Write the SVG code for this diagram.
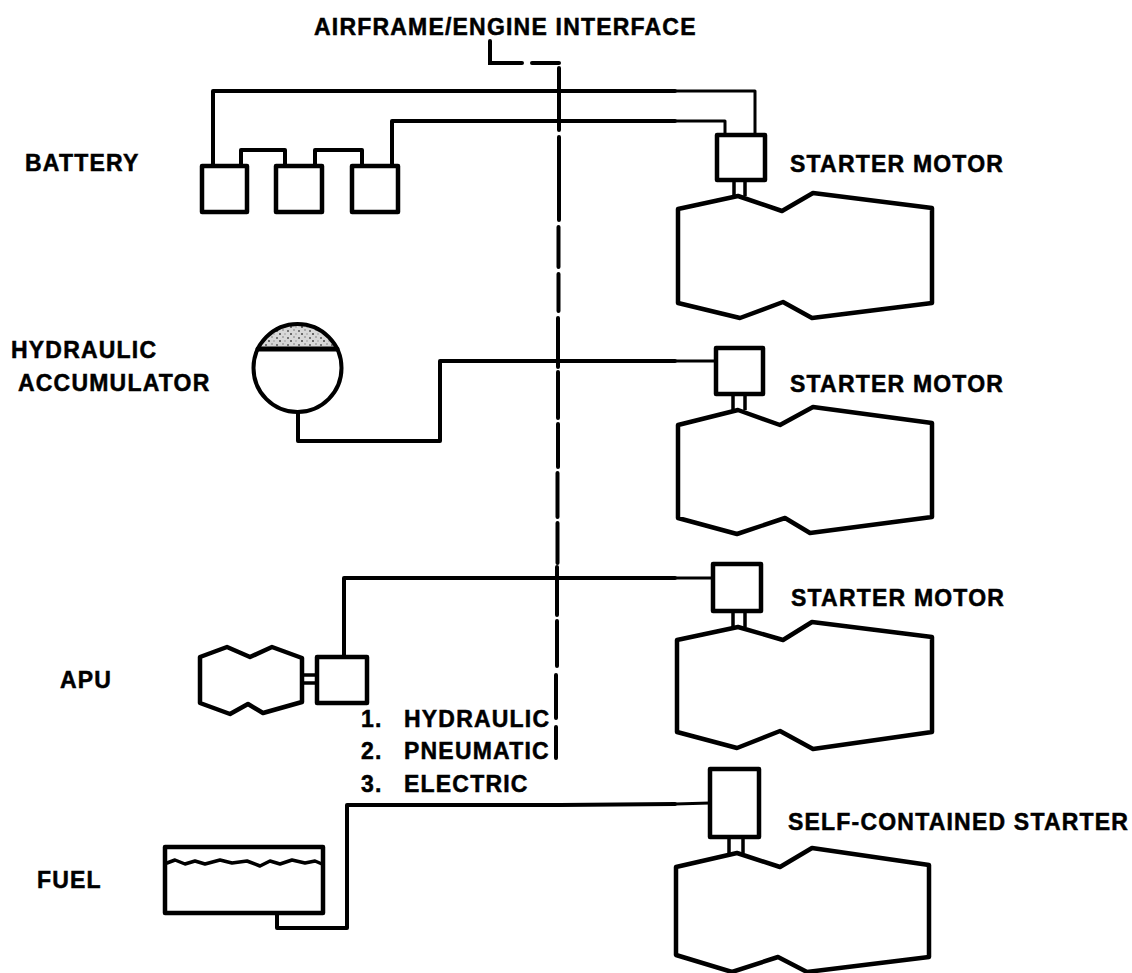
<svg xmlns="http://www.w3.org/2000/svg" width="1132" height="973" viewBox="0 0 1132 973">
<style>
.l{fill:none;stroke:#000;stroke-width:4;stroke-linejoin:round;stroke-linecap:round}
.w{fill:none;stroke:#000;stroke-width:3;stroke-linejoin:round}
.d{fill:none;stroke:#000;stroke-width:4;stroke-linecap:round}
.n{fill:#fff;stroke:#000;stroke-width:4.5;stroke-linejoin:round}
.s{fill:none;stroke:#000;stroke-width:3.5}
.t{font-family:"Liberation Sans",Arial,sans-serif;font-weight:700;font-size:23px;letter-spacing:1.2px;fill:#000;stroke:#000;stroke-width:.5}
</style>
<defs>
<pattern id="stipple" width="11" height="7" patternUnits="userSpaceOnUse">
<rect width="11" height="7" fill="#d8d8d8"/>
<circle cx="2" cy="2" r="1" fill="#555"/><circle cx="8" cy="1" r=".8" fill="#777"/><circle cx="5" cy="5" r="1" fill="#444"/><circle cx="10" cy="5" r=".7" fill="#888"/>
</pattern>
</defs>
<rect width="1132" height="973" fill="#fff"/>
<g id="connectors">
<path class="l" d="M213 166V91H675"/><path class="w" d="M675 91H755V135"/>
<path class="l" d="M392 166V121H675"/><path class="w" d="M675 121H725V135"/>
<path class="l" d="M241 166V150H285V166M315 166V150H362V166"/>
<path class="l" d="M298 412V441H440V361H675"/><path class="w" d="M675 361H716"/>
<path class="l" d="M344 657V578H675"/><path class="w" d="M675 578H713"/>
<path class="l" d="M277 913V928H347V805H560L675 804"/><path class="w" d="M675 804L710 803"/>
<path class="d" id="interface-leader" d="M490 41V63H522M532 63H559"/>
<path class="d" id="interface-line" d="M559 68V130M559 137V220M558.500 227V267M558.500 274V311M558 318V367M558 372V418M558 424V467M557.500 473V517M557.500 523V563M557 567V615M557 621V666M556 675V718M556 727V758"/>
</g>
<g id="battery1"><rect class="n" x="202" y="166" width="45" height="46"/></g>
<g id="battery2"><rect class="n" x="276" y="166" width="46" height="46"/></g>
<g id="battery3"><rect class="n" x="352" y="166" width="46" height="46"/></g>
<g id="accumulator"><circle cx="297.500" cy="368" r="44" fill="#fff"/><path d="M258 349A44 44 0 0 1 337 349Z" fill="url(#stipple)"/><circle class="l" cx="297.500" cy="368" r="44"/><path class="l" d="M258 349H337" style="stroke-width:5"/></g>
<g id="apu"><path class="n" d="M200 657L227 647L250 657L272 647L302 658V702L263 713L248 704L230 714L200 703Z"/><path class="s" d="M302 675H318M302 683H318"/><rect class="n" x="317" y="657" width="50" height="46"/></g>
<g id="tank"><rect class="n" x="165" y="847" width="158" height="66"/><path class="l" d="M167 863L175 860L185 864L195 861L205 864L220 860L232 863L247 861L260 866L270 861L280 864L292 860L305 863L315 861L322 864" style="stroke-width:3.500"/></g>
<g id="engine1"><path class="n" d="M678 209L738 196L782 211L813 193L932 208V303L812 318L783 302L740 318L678 303Z"/><path class="s" d="M734 180V196M745 180V196"/><rect class="n" x="717" y="135" width="48" height="45"/></g>
<g id="engine2"><path class="n" d="M678 425L738 410L780 425L813 407L932 423V517L810 533L785 518L737 534L678 518Z"/><path class="s" d="M733 394V410M745 394V410"/><rect class="n" x="716" y="348" width="47" height="46"/></g>
<g id="engine3"><path class="n" d="M677 640L738 627L783 640L812 622L932 637V732L813 749L780 731L737 748L677 732Z"/><path class="s" d="M733 611V627M745 611V627"/><rect class="n" x="713" y="564" width="48" height="47"/></g>
<g id="engine4"><path class="n" d="M676 867L737 853L780 867L812 848L929 865V957L807 972L778 957L732 972L676 955Z"/><path class="s" d="M729 837V853M743 837V853"/><rect class="n" x="710" y="769" width="49" height="68"/></g>
<g id="labels">
<text class="t" x="314" y="35">AIRFRAME/ENGINE INTERFACE</text>
<text class="t" x="25" y="171">BATTERY</text>
<text class="t" x="790" y="172">STARTER MOTOR</text>
<text class="t" x="11" y="358">HYDRAULIC</text>
<text class="t" x="18" y="391">ACCUMULATOR</text>
<text class="t" x="790" y="392">STARTER MOTOR</text>
<text class="t" x="791" y="606">STARTER MOTOR</text>
<text class="t" x="60" y="688">APU</text>
<text class="t" x="361" y="727">1.</text><text class="t" x="404" y="727">HYDRAULIC</text>
<text class="t" x="361" y="759">2.</text><text class="t" x="404" y="759">PNEUMATIC</text>
<text class="t" x="361" y="792">3.</text><text class="t" x="404" y="792">ELECTRIC</text>
<text class="t" x="788" y="830">SELF-CONTAINED STARTER</text>
<text class="t" x="37" y="888">FUEL</text>
</g>
</svg>
